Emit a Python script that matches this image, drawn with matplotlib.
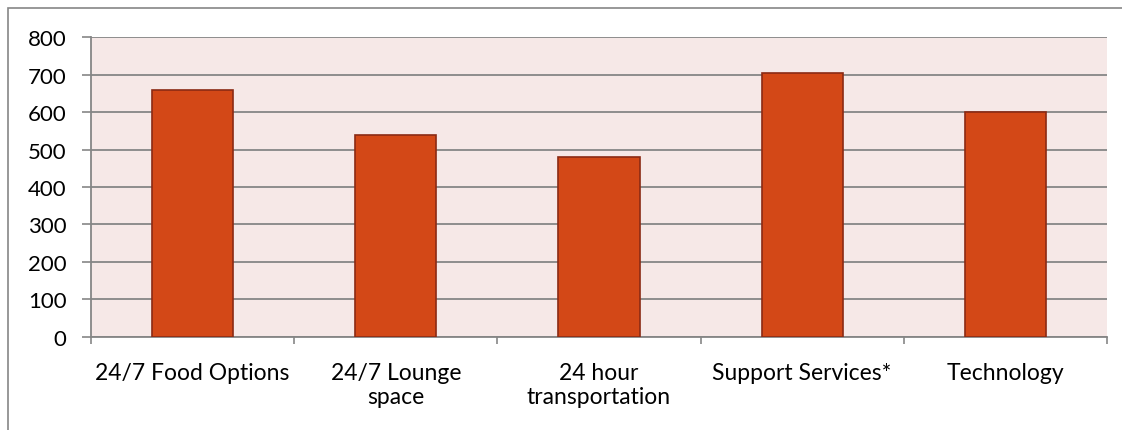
import numpy as np
import matplotlib.pyplot as plt
from matplotlib.patches import Rectangle

categories = ['24/7 Food Options', '24/7 Lounge\nspace', '24 hour\ntransportation',
              'Support Services*', 'Technology']
values = [660, 540, 480, 705, 600]
y_ticks = [0, 100, 200, 300, 400, 500, 600, 700, 800]

plt.rcParams['font.family'] = ['Lato', 'DejaVu Sans']

fig = plt.figure(figsize=(11.22, 4.31), dpi=100)
ax = fig.add_axes([0.0811, 0.2158, 0.9055, 0.696])

# outer chart border
fig.patches.append(Rectangle((8 / 1122, -0.1), 1.2, 1.1 - 9 / 431, transform=fig.transFigure,
                             fill=False, edgecolor='#868686', linewidth=1.2))

x = np.arange(len(categories))
ax.set_facecolor('#F6E8E7')
ax.bar(x, values, width=0.4, color='#D34817', edgecolor='#8B2A14', linewidth=1.2, zorder=3)

ax.set_xlim(-0.5, len(categories) - 0.5)
ax.set_ylim(0, 800)
ax.set_yticks(y_ticks)
ax.grid(axis='y', color='#868686', linewidth=1.3, zorder=1)
ax.set_axisbelow(True)

ax.set_xticks(x)
ax.set_xticklabels(categories, fontsize=16.5, linespacing=1.15)
ax.set_xticks(np.arange(-0.5, len(categories)), minor=True)
ax.tick_params(axis='x', which='major', length=0, pad=18)
ax.tick_params(axis='x', which='minor', length=5, width=1.2, color='#868686', direction='out')
ax.tick_params(axis='y', length=6.5, width=1.2, color='#868686', labelsize=16, pad=11)

for s in ['top', 'right']:
    ax.spines[s].set_visible(False)
for s in ['left', 'bottom']:
    ax.spines[s].set_color('#868686')
    ax.spines[s].set_linewidth(1.3)

fig.savefig('out.png', dpi=100)
